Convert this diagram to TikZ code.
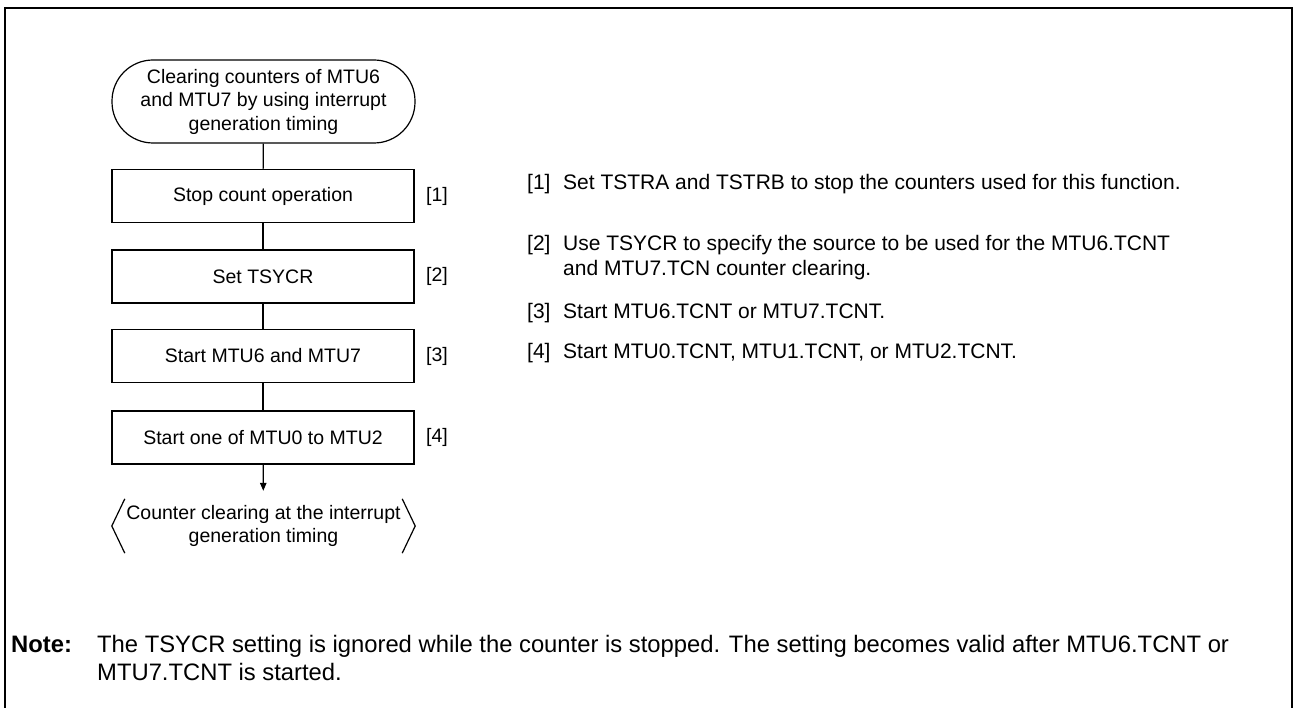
\documentclass[tikz,border=0pt]{standalone}
\usepackage{fontspec}
\setmainfont{Liberation Sans}
\usetikzlibrary{arrows.meta,calc}
\begin{document}
\begin{tikzpicture}[x=1pt,y=-1pt,
  boxtxt/.style={font=\fontsize{19.5}{23.5}\selectfont},
  sidetxt/.style={font=\fontsize{21}{26}\selectfont, anchor=base west, inner sep=0pt},
  notetxt/.style={font=\fontsize{23.8}{28}\selectfont, anchor=base west, inner sep=0pt},
  stepbox/.style={draw, line width=1.2pt, minimum width=302pt, minimum height=53pt, boxtxt, inner sep=0pt},
  termbox/.style={draw, line width=1.2pt, rounded corners=41pt, minimum width=303pt, minimum height=83pt, boxtxt, align=center, inner sep=0pt},
  endbox/.style={minimum width=303pt, minimum height=54pt, boxtxt, align=center, inner sep=0pt},
  steplabel/.style={boxtxt, inner sep=0pt},
  conn/.style={line width=1.2pt},
  frame/.style={line width=2pt}]
\useasboundingbox (0,0) rectangle (1301,708);
\draw[frame] (5,708) -- (5,8) -- (1292,8) -- (1292,708);

\node[termbox] (start) at (263.5,101.5) {Clearing counters of MTU6\\and MTU7 by using interrupt\\generation timing};
\node[stepbox] (b1) at (263,196) {Stop count operation};
\node[stepbox] (b2) at (263,276.5) {Set TSYCR};
\node[stepbox] (b3) at (263,356) {Start MTU6 and MTU7};
\node[stepbox] (b4) at (263,437.5) {Start one of MTU0 to MTU2};
\node[endbox] (fin) at (263.5,526) {Counter clearing at the interrupt\\generation timing};

\node[steplabel] (l1) at (437,196) {[1]};
\node[steplabel] (l2) at (437,276.5) {[2]};
\node[steplabel] (l3) at (437,356) {[3]};
\node[steplabel] (l4) at (437,437.5) {[4]};

\draw[conn] (start) -- (b1);
\draw[conn] (b1) -- (b2);
\draw[conn] (b2) -- (b3);
\draw[conn] (b3) -- (b4);
\draw[conn, -{Triangle[length=8pt,width=6.5pt]}, shorten >=8pt] (b4) -- (fin);
\draw[conn] ([xshift=13pt]fin.north west) -- (fin.west) -- ([xshift=13pt]fin.south west);
\draw[conn] ([xshift=-13pt]fin.north east) -- (fin.east) -- ([xshift=-13pt]fin.south east);

\node[sidetxt] (n1) at (527,189.5) {[1]};
\node[sidetxt] (t1) at (563,189.5) {Set TSTRA and TSTRB to stop the counters used for this function.};
\node[sidetxt] (n2) at (527,250.5) {[2]};
\node[sidetxt] (t2) at (563,250.5) {Use TSYCR to specify the source to be used for the MTU6.TCNT};
\node[sidetxt] (t2b) at (563,275.5) {and MTU7.TCN counter clearing.};
\node[sidetxt] (n3) at (527,318.5) {[3]};
\node[sidetxt] (t3) at (563,318.5) {Start MTU6.TCNT or MTU7.TCNT.};
\node[sidetxt] (n4) at (527,358.5) {[4]};
\node[sidetxt] (t4) at (563,358.5) {Start MTU0.TCNT, MTU1.TCNT, or MTU2.TCNT.};

\node[notetxt, font=\fontsize{23.8}{28}\selectfont\bfseries] (note) at (11,652.5) {Note:};
\node[notetxt] (nb1) at (97,652.5) {The TSYCR setting is ignored while the counter is stopped. The setting becomes valid after MTU6.TCNT or};
\node[notetxt] (nb2) at (97,680.5) {MTU7.TCNT is started.};
\end{tikzpicture}
\end{document}
